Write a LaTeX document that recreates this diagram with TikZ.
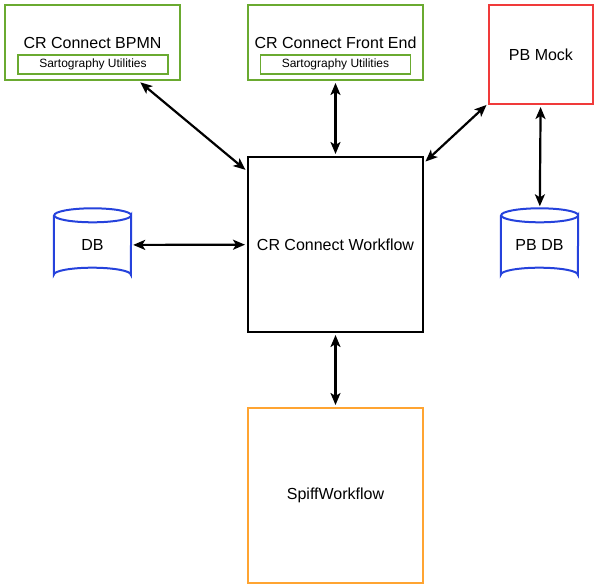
\documentclass[tikz,border=0pt]{standalone}
\usepackage{fontspec}
\setmainfont{Liberation Sans}
\usepackage{tikz}
\usetikzlibrary{arrows.meta}
\definecolor{ink}{HTML}{000000}
\definecolor{leaf}{HTML}{6AAA30}
\definecolor{alarm}{HTML}{F03A3A}
\definecolor{amber}{HTML}{FFA431}
\definecolor{store}{HTML}{2542DC}
\tikzset{
  box/.style={draw=ink, line width=2pt, inner sep=0pt, minimum width=175pt, minimum height=175pt},
  app/.style={draw=leaf, line width=2pt, inner sep=0pt, minimum width=175pt, minimum height=75pt},
  util/.style={draw=leaf, line width=1.2pt, inner sep=0pt, minimum width=150pt, minimum height=19pt, font=\fontsize{12}{14}\selectfont},
  dbnode/.style={inner sep=0pt, minimum width=77pt, minimum height=73pt},
  cyl/.style={draw=store, line width=2pt},
  lab/.style={font=\fontsize{16}{19}\selectfont},
  conn/.style={draw=ink, line width=2.2pt, shorten >=2pt, shorten <=2pt,
    {Stealth[length=12pt,width=10pt,inset=3pt]}-{Stealth[length=12pt,width=10pt,inset=3pt]}},
}

\begin{document}
\begin{tikzpicture}[x=1pt,y=-1pt]
  \useasboundingbox (0,0) rectangle (594,588);
  \def\ry{7}
  % front ends
  \node[app] (bpmn) at (92.5,42.5) {};
  \node[lab] (bpmntitle) at (92.5,43) {CR Connect BPMN};
  \node[util] (bpmnutil) at (93,64.5) {Sartography Utilities};
  \node[app] (fe) at (335.5,42.5) {};
  \node[lab] (fetitle) at (335.5,43) {CR Connect Front End};
  \node[util] (feutil) at (335.5,64.5) {Sartography Utilities};
  \node[box, draw=alarm, minimum width=104pt, minimum height=99pt, lab] (mock) at (541,54.5) {PB Mock};
  % core
  \node[box, lab] (wf) at (335.5,244.5) {CR Connect Workflow};
  \node[box, draw=amber, lab] (spiff) at (335.5,495.5) {SpiffWorkflow};
  % databases
  \node[dbnode, lab] (db) at (92.5,245) {DB};
  \node[dbnode, lab] (pbdb) at (539.5,245) {PB DB};
  \foreach \n in {db,pbdb}{
    \draw[cyl] ([yshift=-\ry]\n.north west) -- ([yshift=\ry]\n.south west)
      arc[start angle=180, end angle=360, x radius=38.5, y radius=\ry]
      -- ([yshift=-\ry]\n.north east)
      arc[start angle=0, end angle=180, x radius=38.5, y radius=\ry]
      arc[start angle=180, end angle=360, x radius=38.5, y radius=\ry];
  }
  % connections
  \draw[conn] (bpmn) -- (wf);
  \draw[conn] (fe) -- (wf);
  \draw[conn] (mock) -- (wf);
  \draw[conn] (mock) -- (pbdb);
  \draw[conn] (db) -- (wf);
  \draw[conn] (wf) -- (spiff);
\end{tikzpicture}
\end{document}
